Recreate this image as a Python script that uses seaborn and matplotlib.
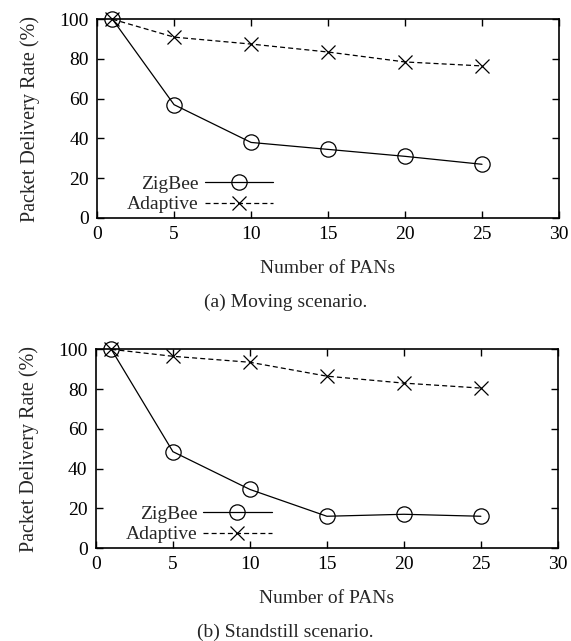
import matplotlib
matplotlib.use("Agg")
import matplotlib.pyplot as plt
import seaborn as sns

pans = [1, 5, 10, 15, 20, 25]

moving_zigbee = [100, 57, 38, 34.5, 31, 27]
moving_adaptive = [100, 91, 87.5, 83.5, 78.5, 76.5]

still_zigbee = [100, 48.5, 29.5, 16, 17, 16]
still_adaptive = [100, 96.5, 93.5, 86.5, 83, 80.5]

captions = ["(a) Moving scenario.", "(b) Standstill scenario."]

sns.set_theme(style="ticks")
plt.rcParams["font.family"] = ["Liberation Serif", "DejaVu Serif"]

fig = plt.figure(figsize=(5.71, 6.41), dpi=100)
ax_top = fig.add_axes([0.170, 0.660, 0.809, 0.310])
ax_bot = fig.add_axes([0.168, 0.145, 0.809, 0.310])

panels = [(ax_top, moving_zigbee, moving_adaptive, captions[0], 0.515),
          (ax_bot, still_zigbee, still_adaptive, captions[1], 0.0)]

for ax, zig, ada, cap, cap_y in panels:
    sns.lineplot(x=pans, y=zig, ax=ax, color="black", linewidth=0.9,
                 marker="o", markersize=11, markerfacecolor="none",
                 markeredgecolor="black", markeredgewidth=0.9,
                 label="ZigBee", clip_on=False)
    sns.lineplot(x=pans, y=ada, ax=ax, color="black", linewidth=0.9,
                 linestyle=(0, (4, 2.5)), marker="x", markersize=10,
                 markeredgecolor="black", markeredgewidth=0.9,
                 label="Adaptive", clip_on=False)
    ax.set_xlim(0, 30)
    ax.set_ylim(0, 100)
    ax.set_xticks(range(0, 31, 5))
    ax.set_yticks(range(0, 101, 20))
    ax.tick_params(direction="in", top=True, right=True, length=5,
                   width=1, labelsize=14, colors="black", pad=6)
    for s in ax.spines.values():
        s.set_linewidth(1.2)
        s.set_color("black")
    ax.set_xlabel("Number of PANs", fontsize=14, labelpad=12)
    ax.set_ylabel("Packet Delivery Rate (%)", fontsize=14.5, labelpad=14)
    ax.legend(loc="lower right", bbox_to_anchor=(0.418, -0.065),
              frameon=False, markerfirst=False, fontsize=14,
              handlelength=3.5, handletextpad=0.3, labelspacing=0.15)
    fig.text(0.5, cap_y, cap, ha="center", va="bottom", fontsize=14)

fig.savefig("out.png", dpi=100)
